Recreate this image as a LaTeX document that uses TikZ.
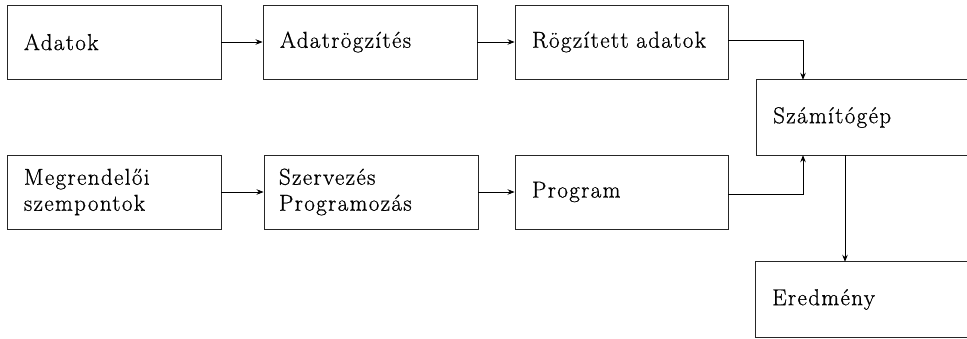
\documentclass[tikz,border=0pt]{standalone}
\usepackage{fontspec}
\usetikzlibrary{arrows.meta,calc}
\newfontfamily\bxfont{Latin Modern Roman}[LetterSpace=6,FakeBold=0.8]
\newcommand{\boxfont}{\bxfont\fontsize{23}{26}\selectfont}
\begin{document}
\begin{tikzpicture}[x=1pt,y=-1pt,
  box/.style={draw=black!85,line width=0.9pt,minimum height=74pt,inner xsep=0pt,inner ysep=0pt,
    minimum width=#1,text width=#1,align=left,font=\boxfont},
  openbox/.style={minimum height=75pt,inner sep=0pt,minimum width=#1,text width=#1,align=left,font=\boxfont},
  edge/.style={line width=0.8pt,-{Stealth[length=7pt,width=5.5pt]}},
  side/.style={draw=black!85,line width=0.9pt}]
\useasboundingbox (0,0) rectangle (967,339);
\fill[white] (0,0) rectangle (967,339);
% row 1
\node[box=214pt] (a) at (114,42) {\hspace*{17pt}Adatok};
\node[box=214pt] (b) at (370,42) {\hspace*{17pt}Adatrögzítés};
\node[box=213pt] (c) at (621.5,42) {\hspace*{17pt}Rögzített adatok};
% row 2
\node[box=214pt] (d) at (114,192) {\hspace*{17pt}Megrendelői\\\hspace*{17pt}szempontok};
\node[box=214pt] (e) at (371,192) {\hspace*{15pt}Szervezés\\\hspace*{15pt}Programozás};
\node[box=213pt] (f) at (621.5,192) {\hspace*{17pt}Program};
% right column (open on the right)
\node[openbox=230pt,anchor=west] (s) at (756,117.5) {\hspace*{17pt}Számítógép};
\draw[side] (s.north east) -- (s.north west) -- (s.south west) -- (s.south east);
\node[openbox=230pt,anchor=west] (r) at (755,299.5) {\hspace*{17pt}Eredmény};
\draw[side] (r.north east) -- (r.north west) -- (r.south west) -- (r.south east);
% connectors
\draw[edge] (a.east) -- (b.west);
\draw[edge] (b.east) -- (c.west);
\draw[edge] (d.east) -- (e.west);
\draw[edge] (e.east) -- (f.west);
\coordinate (sin) at ($(s.north west)+(47,0)$);
\coordinate (sup) at ($(s.south west)+(47,0)$);
\coordinate (sout) at ($(s.south west)+(89,0)$);
\coordinate (rin) at ($(r.north west)+(90,0)$);
\draw[edge] ($(c.east)+(0,-2)$) -| (sin);
\draw[edge] ($(f.east)+(0,2)$) -| (sup);
\draw[edge] (sout) -- (rin);
\end{tikzpicture}
\end{document}
